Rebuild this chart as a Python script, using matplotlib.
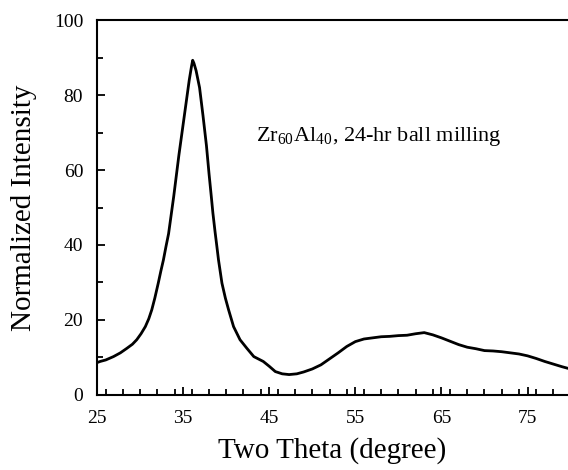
import matplotlib
matplotlib.use("Agg")
import matplotlib.pyplot as plt
from matplotlib.ticker import MultipleLocator

plt.rcParams['font.family'] = ['Liberation Serif', 'DejaVu Serif']
plt.rcParams['mathtext.fontset'] = 'custom'
plt.rcParams['mathtext.rm'] = 'Liberation Serif'

# XRD pattern
two_theta = [25.0, 25.35, 26.0, 26.9, 27.7, 28.45, 29.1, 29.6, 30.1, 30.6,
             31.0, 31.35, 31.7, 32.1, 32.4, 32.7, 33.0, 33.3, 33.6, 33.9,
             34.2, 34.5, 34.8, 35.1, 35.4, 35.7, 35.95, 36.1, 36.25, 36.5,
             36.9, 37.3, 37.7, 38.0, 38.26, 38.45, 38.7, 38.9, 39.1, 39.5,
             39.9, 40.27, 40.85, 41.6, 42.4, 43.2, 44.3, 45.0, 45.7, 46.5,
             47.3, 48.2, 49.0, 50.0, 51.0, 52.0, 53.0, 54.0, 55.0, 56.0,
             57.0, 58.0, 59.0, 60.0, 61.0, 62.0, 63.0, 64.0, 65.0, 66.0,
             67.0, 68.0, 69.0, 70.0, 71.0, 72.0, 73.0, 74.0, 75.0, 76.0,
             77.0, 78.0, 79.0, 79.8]
intensity = [8.6, 8.9, 9.3, 10.2, 11.2, 12.4, 13.5, 14.7, 16.3, 18.2,
             20.3, 22.7, 25.8, 29.8, 33.0, 36.0, 39.6, 43.0, 48.0, 53.0,
             58.5, 64.0, 69.0, 74.0, 79.0, 84.0, 87.5, 89.3, 88.5, 86.5,
             82.0, 74.5, 66.5, 59.0, 53.0, 48.5, 43.5, 39.8, 36.0, 29.8,
             25.8, 22.7, 18.2, 14.7, 12.4, 10.2, 8.9, 7.6, 6.2, 5.6,
             5.4, 5.6, 6.1, 6.9, 8.0, 9.6, 11.2, 12.9, 14.2, 14.9,
             15.2, 15.5, 15.6, 15.8, 15.9, 16.3, 16.6, 16.0, 15.2, 14.3,
             13.4, 12.7, 12.3, 11.8, 11.7, 11.5, 11.2, 10.9, 10.4, 9.7,
             8.9, 8.2, 7.5, 7.0]

x_ticks = [25, 35, 45, 55, 65, 75]
y_ticks = [0, 20, 40, 60, 80, 100]

fig = plt.figure(figsize=(5.68, 4.70), dpi=100)
ax = fig.add_axes([0.171, 0.160, 0.829, 0.797])

ax.plot(two_theta, intensity, color='black', linewidth=2.0)

ax.set_xlim(25, 79.7)
ax.set_ylim(0, 100)
ax.set_xticks(x_ticks)
ax.set_yticks(y_ticks)
ax.xaxis.set_minor_locator(MultipleLocator(2))
ax.yaxis.set_minor_locator(MultipleLocator(10))
ax.tick_params(which='both', direction='in', top=False, right=False,
               labelsize=14, width=1.3)
ax.tick_params(which='major', length=6)
ax.tick_params(which='minor', length=4)
ax.tick_params(axis='x', pad=11)
ax.tick_params(axis='y', pad=10)
ax.spines['right'].set_visible(False)
for s in ['left', 'bottom', 'top']:
    ax.spines[s].set_linewidth(1.5)

ax.set_xlabel('Two Theta (degree)', fontsize=21, labelpad=7)
ax.set_ylabel('Normalized Intensity', fontsize=21, labelpad=12)

ax.text(43.5, 69, r'Zr$_{\mathrm{60}}$Al$_{\mathrm{40}}$, 24-hr ball milling',
        fontsize=16, va='center', ha='left')

fig.savefig('out.png', dpi=100)
